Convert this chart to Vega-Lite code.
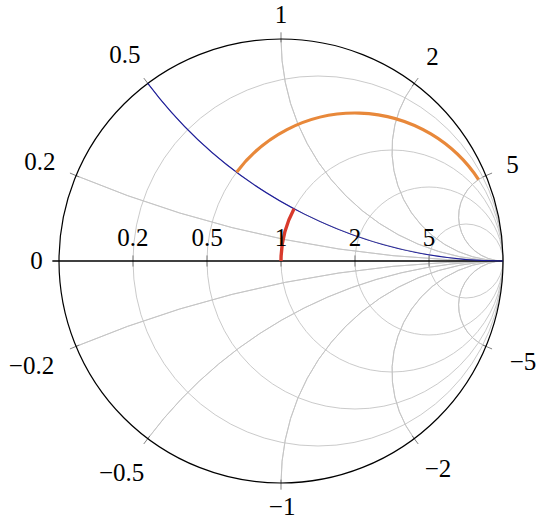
{
  "$schema": "https://vega.github.io/schema/vega-lite/v6.json",
  "width": 444,
  "height": 444,
  "autosize": {"type": "none"},
  "padding": {"left": 59, "top": 39, "right": 37, "bottom": 40},
  "background": "white",
  "config": {"view": {"stroke": null}},
  "datasets": {
    "gridFull": [
      {"cu": 0.16667, "cv": 0, "r": 0.83333, "t0": 0, "t1": 360},
      {"cu": 0.33333, "cv": 0, "r": 0.66667, "t0": 0, "t1": 360},
      {"cu": 0.5, "cv": 0, "r": 0.5, "t0": 0, "t1": 360},
      {"cu": 0.66667, "cv": 0, "r": 0.33333, "t0": 0, "t1": 360},
      {"cu": 0.83333, "cv": 0, "r": 0.16667, "t0": 0, "t1": 360}
    ],
    "gridArcs": [
      {"cu": 1, "cv": 5, "r": 5, "t0": 180, "t1": 202.62},
      {"cu": 1, "cv": 2, "r": 2, "t0": 180, "t1": 233.13},
      {"cu": 1, "cv": 1, "r": 1, "t0": 180, "t1": 270},
      {"cu": 1, "cv": 0.5, "r": 0.5, "t0": 180, "t1": 306.87},
      {"cu": 1, "cv": 0.2, "r": 0.2, "t0": 180, "t1": 337.38},
      {"cu": 1, "cv": -5, "r": 5, "t0": 337.38, "t1": 360},
      {"cu": 1, "cv": -2, "r": 2, "t0": 306.87, "t1": 360},
      {"cu": 1, "cv": -1, "r": 1, "t0": 270, "t1": 360},
      {"cu": 1, "cv": -0.5, "r": 0.5, "t0": 233.13, "t1": 360},
      {"cu": 1, "cv": -0.2, "r": 0.2, "t0": 202.62, "t1": 360}
    ],
    "border": [{"cu": 0, "cv": 0, "r": 1, "t0": 0, "t1": 360}],
    "blue": [{"cu": 1, "cv": 2, "r": 2, "t0": 180, "t1": 233.13}],
    "orange": [{"cu": 0.33333, "cv": 0, "r": 0.66667, "t0": -53.13, "t1": 56.6}],
    "red": [{"cu": 0.5, "cv": 0, "r": 0.5, "t0": 270, "t1": 298.07}],
    "axis": [{"u0": -1.03, "u1": 1, "v": 0}],
    "ticks": [
      {"u0": -0.9092, "v0": 0.3788, "u1": -0.9508, "v1": 0.3962},
      {"u0": -0.591, "v0": 0.788, "u1": -0.618, "v1": 0.824},
      {"u0": 0, "v0": 0.985, "u1": 0, "v1": 1.03},
      {"u0": 0.591, "v0": 0.788, "u1": 0.618, "v1": 0.824},
      {"u0": 0.9092, "v0": 0.3788, "u1": 0.9508, "v1": 0.3962},
      {"u0": -0.9092, "v0": -0.3788, "u1": -0.9508, "v1": -0.3962},
      {"u0": -0.591, "v0": -0.788, "u1": -0.618, "v1": -0.824},
      {"u0": 0, "v0": -0.985, "u1": 0, "v1": -1.03},
      {"u0": 0.591, "v0": -0.788, "u1": 0.618, "v1": -0.824},
      {"u0": 0.9092, "v0": -0.3788, "u1": 0.9508, "v1": -0.3962},
      {"u0": -0.66667, "v0": -0.025, "u1": -0.66667, "v1": 0.025},
      {"u0": -0.33333, "v0": -0.025, "u1": -0.33333, "v1": 0.025},
      {"u0": 0, "v0": -0.025, "u1": 0, "v1": 0.025},
      {"u0": 0.33333, "v0": -0.025, "u1": 0.33333, "v1": 0.025},
      {"u0": 0.66667, "v0": -0.025, "u1": 0.66667, "v1": 0.025}
    ],
    "labels": [
      {"u": 0, "v": 1.106, "label": "1"},
      {"u": -0.703, "v": 0.926, "label": "0.5"},
      {"u": 0.682, "v": 0.919, "label": "2"},
      {"u": -1.086, "v": 0.448, "label": "0.2"},
      {"u": 1.043, "v": 0.432, "label": "5"},
      {"u": -1.101, "v": 0, "label": "0"},
      {"u": -1.124, "v": -0.473, "label": "−0.2"},
      {"u": 1.09, "v": -0.457, "label": "−5"},
      {"u": -0.718, "v": -0.957, "label": "−0.5"},
      {"u": 0.707, "v": -0.937, "label": "−2"},
      {"u": 0.005, "v": -1.106, "label": "−1"},
      {"u": -0.66667, "v": 0.104, "label": "0.2"},
      {"u": -0.33333, "v": 0.104, "label": "0.5"},
      {"u": 0, "v": 0.104, "label": "1"},
      {"u": 0.33333, "v": 0.104, "label": "2"},
      {"u": 0.66667, "v": 0.104, "label": "5"}
    ]
  },
  "layer": [
    {
      "data": {"name": "gridFull"},
      "mark": {"type": "arc", "filled": false, "stroke": "#c4c4c4", "strokeWidth": 0.9},
      "encoding": {
        "x": {"field": "cu", "type": "quantitative", "scale": {"domain": [-1, 1], "nice": false, "zero": false}, "axis": null},
        "y": {"field": "cv", "type": "quantitative", "scale": {"domain": [-1, 1], "nice": false, "zero": false}, "axis": null},
        "radius": {"field": "r", "type": "quantitative", "scale": {"type": "linear", "domain": [0, 5], "range": [0, 1110], "nice": false, "zero": true}},
        "theta": {"field": "t0", "type": "quantitative", "stack": null, "scale": {"type": "linear", "domain": [0, 360], "range": [0, 6.283185307179586], "nice": false, "zero": false}},
        "theta2": {"field": "t1"}
      }
    },
    {
      "data": {"name": "gridArcs"},
      "mark": {"type": "arc", "filled": false, "stroke": "#c4c4c4", "strokeWidth": 0.9},
      "encoding": {
        "x": {"field": "cu", "type": "quantitative"},
        "y": {"field": "cv", "type": "quantitative"},
        "radius": {"field": "r", "type": "quantitative"},
        "radius2": {"field": "r"},
        "theta": {"field": "t0", "type": "quantitative", "stack": null},
        "theta2": {"field": "t1"}
      }
    },
    {
      "data": {"name": "ticks"},
      "mark": {"type": "rule", "stroke": "#606060", "strokeWidth": 0.8},
      "encoding": {
        "x": {"field": "u0", "type": "quantitative"},
        "y": {"field": "v0", "type": "quantitative"},
        "x2": {"field": "u1"},
        "y2": {"field": "v1"}
      }
    },
    {
      "data": {"name": "axis"},
      "mark": {"type": "rule", "stroke": "#000000", "strokeWidth": 1.4},
      "encoding": {
        "x": {"field": "u0", "type": "quantitative"},
        "x2": {"field": "u1"},
        "y": {"field": "v", "type": "quantitative"}
      }
    },
    {
      "data": {"name": "border"},
      "mark": {"type": "arc", "filled": false, "stroke": "#000000", "strokeWidth": 1.2},
      "encoding": {
        "x": {"field": "cu", "type": "quantitative"},
        "y": {"field": "cv", "type": "quantitative"},
        "radius": {"field": "r", "type": "quantitative"},
        "theta": {"field": "t0", "type": "quantitative", "stack": null},
        "theta2": {"field": "t1"}
      }
    },
    {
      "data": {"name": "blue"},
      "mark": {"type": "arc", "filled": false, "stroke": "#1c1c9c", "strokeWidth": 1.1},
      "encoding": {
        "x": {"field": "cu", "type": "quantitative"},
        "y": {"field": "cv", "type": "quantitative"},
        "radius": {"field": "r", "type": "quantitative"},
        "radius2": {"field": "r"},
        "theta": {"field": "t0", "type": "quantitative", "stack": null},
        "theta2": {"field": "t1"}
      }
    },
    {
      "data": {"name": "orange"},
      "mark": {"type": "arc", "filled": false, "stroke": "#e8883a", "strokeWidth": 3.2},
      "encoding": {
        "x": {"field": "cu", "type": "quantitative"},
        "y": {"field": "cv", "type": "quantitative"},
        "radius": {"field": "r", "type": "quantitative"},
        "radius2": {"field": "r"},
        "theta": {"field": "t0", "type": "quantitative", "stack": null},
        "theta2": {"field": "t1"}
      }
    },
    {
      "data": {"name": "red"},
      "mark": {"type": "arc", "filled": false, "stroke": "#d83a2c", "strokeWidth": 3.4},
      "encoding": {
        "x": {"field": "cu", "type": "quantitative"},
        "y": {"field": "cv", "type": "quantitative"},
        "radius": {"field": "r", "type": "quantitative"},
        "radius2": {"field": "r"},
        "theta": {"field": "t0", "type": "quantitative", "stack": null},
        "theta2": {"field": "t1"}
      }
    },
    {
      "data": {"name": "labels"},
      "mark": {"type": "text", "font": "Liberation Serif", "fontSize": 25, "color": "#000000", "align": "center", "baseline": "middle"},
      "encoding": {
        "x": {"field": "u", "type": "quantitative"},
        "y": {"field": "v", "type": "quantitative"},
        "text": {"field": "label", "type": "nominal"}
      }
    }
  ]
}
